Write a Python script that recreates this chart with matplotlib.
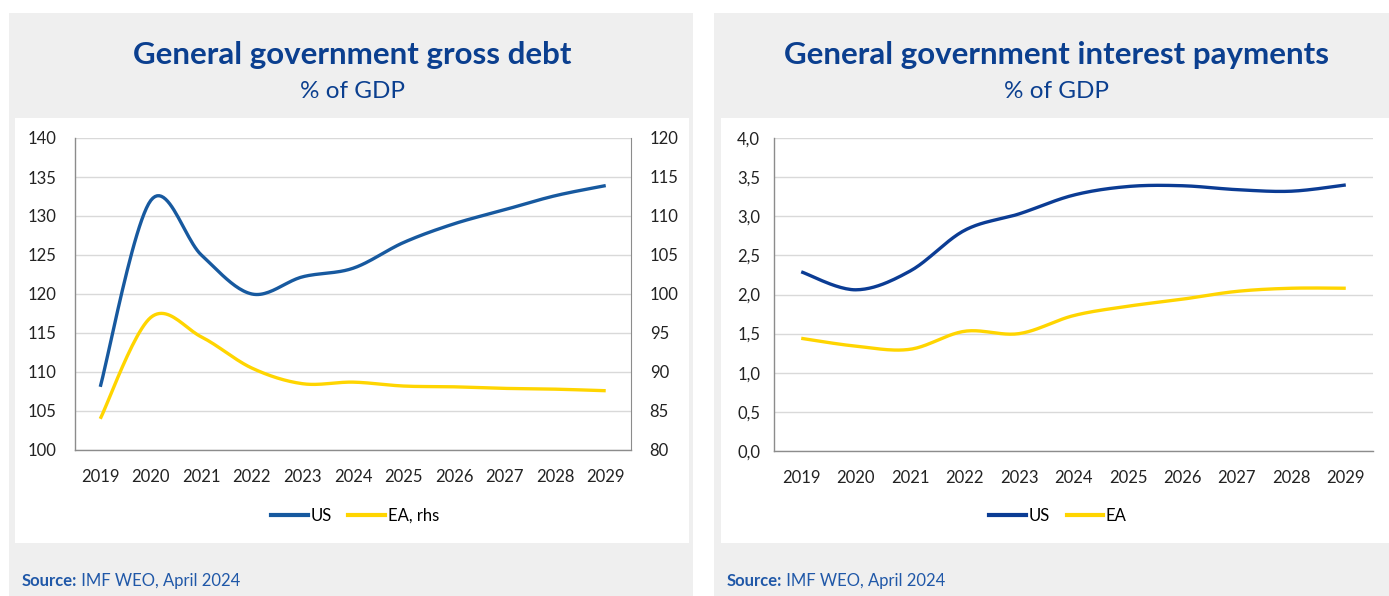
import numpy as np
import matplotlib
matplotlib.use("Agg")
import matplotlib.pyplot as plt
from matplotlib.patches import Rectangle
from matplotlib.ticker import FuncFormatter, MultipleLocator
from matplotlib.lines import Line2D

# ---- data -------------------------------------------------------------
years = ["2019", "2020", "2021", "2022", "2023", "2024",
         "2025", "2026", "2027", "2028", "2029"]

debt_us = [108.1, 132.0, 125.0, 120.0, 122.2, 123.3, 126.6, 129.0, 130.8, 132.6, 133.9]
debt_ea = [84.0, 97.0, 94.5, 90.5, 88.5, 88.7, 88.2, 88.1, 87.9, 87.8, 87.6]

interest_us = [2.29, 2.06, 2.30, 2.82, 3.03, 3.27, 3.38, 3.39, 3.34, 3.32, 3.40]
interest_ea = [1.44, 1.34, 1.30, 1.53, 1.50, 1.73, 1.85, 1.94, 2.04, 2.08, 2.08]

left_title = "General government gross debt"
right_title = "General government interest payments"
subtitle = "% of GDP"
source_bold = "Source:"
source_rest = " IMF WEO, April 2024"

# ---- style ------------------------------------------------------------
FONT = "Lato"
plt.rcParams["font.family"] = [FONT, "DejaVu Sans"]
W, H = 1389, 596
DPI = 100
TITLE_BLUE = "#0b3f8f"
SRC_BLUE = "#2058a8"
PANEL = "#efefef"
GRID = "#d9d9d9"
SPINE = "#8c8c8c"
TICK = "#222222"
US_LEFT = "#17599f"
US_RIGHT = "#0b3c94"
YELLOW = "#ffd500"
LW = 2.4

fig = plt.figure(figsize=(W / DPI, H / DPI), dpi=DPI)
fig.patch.set_facecolor("white")


def box(x0, y0, x1, y1):
    """pixel box (top-left origin) -> figure fraction rect"""
    return [x0 / W, 1 - y1 / H, (x1 - x0) / W, (y1 - y0) / H]


def rect(x0, y0, x1, y1, color, z):
    fig.patches.append(Rectangle((x0 / W, 1 - y1 / H), (x1 - x0) / W, (y1 - y0) / H,
                                 transform=fig.transFigure, facecolor=color,
                                 edgecolor="none", zorder=z))


def smooth(yvals, n=24):
    """Bezier smoothing through every point (spreadsheet-style smoothed line)."""
    y = np.asarray(yvals, float)
    x = np.arange(len(y), dtype=float)
    pts = np.column_stack([x, y])
    out = []
    for i in range(len(pts) - 1):
        p0 = pts[i - 1] if i > 0 else pts[i]
        p1, p2 = pts[i], pts[i + 1]
        p3 = pts[i + 2] if i + 2 < len(pts) else pts[i + 1]
        c1 = p1 + (p2 - p0) / 6.0
        c2 = p2 - (p3 - p1) / 6.0
        t = np.linspace(0, 1, n, endpoint=(i == len(pts) - 2))[:, None]
        seg = ((1 - t) ** 3) * p1 + 3 * ((1 - t) ** 2) * t * c1 + 3 * (1 - t) * t ** 2 * c2 + t ** 3 * p2
        out.append(seg)
    c = np.vstack(out)
    return c[:, 0], c[:, 1]


# panels (behind the axes)
rect(9, 13, 693, 596, PANEL, -3)
rect(714, 13, 1389, 596, PANEL, -3)
rect(15, 118, 689, 543, "white", -2)
rect(721, 118, 1389, 543, "white", -2)

# titles
TS, SS = 22.5, 17.5
fig.text(352 / W, 1 - 55 / H, left_title, ha="center", va="center",
         fontsize=TS, fontweight="bold", color=TITLE_BLUE)
fig.text(352 / W, 1 - 92 / H, subtitle, ha="center", va="center",
         fontsize=SS, color=TITLE_BLUE)
fig.text(1056 / W, 1 - 55 / H, right_title, ha="center", va="center",
         fontsize=TS, fontweight="bold", color=TITLE_BLUE)
fig.text(1056 / W, 1 - 92 / H, subtitle, ha="center", va="center",
         fontsize=SS, color=TITLE_BLUE)

TICK_FS = 12


def style_axis(ax):
    ax.set_facecolor("none")
    ax.grid(axis="y", color=GRID, lw=1.0)
    ax.set_axisbelow(True)
    for s in ("top", "right"):
        ax.spines[s].set_visible(False)
    for s in ("left", "bottom"):
        ax.spines[s].set_color(SPINE)
        ax.spines[s].set_linewidth(1.0)
    ax.tick_params(length=0, labelsize=TICK_FS, colors=TICK)
    ax.tick_params(axis="x", pad=14)
    ax.set_xticks(range(len(years)))
    ax.set_xticklabels(years)
    ax.set_xlim(-0.5, len(years) - 0.5)


# ---- left chart: gross debt -----------------------------------------
axL = fig.add_axes(box(75, 138, 631, 450))
style_axis(axL)
axL.set_ylim(100, 140)
axL.yaxis.set_major_locator(MultipleLocator(5))
axL.tick_params(axis="y", pad=13.5)
xs, ys = smooth(debt_us)
axL.plot(xs, ys, color=US_LEFT, lw=LW, solid_capstyle="butt", zorder=3)

axR = axL.twinx()
axR.set_ylim(80, 120)
axR.yaxis.set_major_locator(MultipleLocator(5))
for s in ("top", "left", "bottom"):
    axR.spines[s].set_visible(False)
axR.spines["right"].set_color(SPINE)
axR.tick_params(length=0, labelsize=TICK_FS, colors=TICK, pad=13.5)
xs, ys = smooth(debt_ea)
axR.plot(xs, ys, color=YELLOW, lw=LW, solid_capstyle="butt", zorder=3)

handles = [Line2D([], [], color=US_LEFT, lw=3), Line2D([], [], color=YELLOW, lw=3)]
axL.legend(handles, ["US", "EA, rhs"], loc="center", bbox_to_anchor=(355 / W, 1 - 516 / H),
           bbox_transform=fig.transFigure, ncol=2, frameon=False, fontsize=TICK_FS,
           handlelength=2.2, handletextpad=0.15, columnspacing=1.0)

# ---- right chart: interest payments ---------------------------------
ax2 = fig.add_axes(box(774, 138, 1373, 451))
style_axis(ax2)
ax2.set_ylim(0, 4)
ax2.yaxis.set_major_locator(MultipleLocator(0.5))
ax2.yaxis.set_major_formatter(FuncFormatter(lambda v, p: f"{v:.1f}".replace(".", ",")))
ax2.tick_params(axis="y", pad=10)
xs, ys = smooth(interest_us)
ax2.plot(xs, ys, color=US_RIGHT, lw=LW, solid_capstyle="butt", zorder=3)
xs, ys = smooth(interest_ea)
ax2.plot(xs, ys, color=YELLOW, lw=LW, solid_capstyle="butt", zorder=3)

handles = [Line2D([], [], color=US_RIGHT, lw=3), Line2D([], [], color=YELLOW, lw=3)]
ax2.legend(handles, ["US", "EA"], loc="center", bbox_to_anchor=(1058 / W, 1 - 516 / H),
           bbox_transform=fig.transFigure, ncol=2, frameon=False, fontsize=TICK_FS,
           handlelength=2.2, handletextpad=0.15, columnspacing=1.0)

# ---- source notes ----------------------------------------------------
for x0 in (22, 727):
    t = fig.text(x0 / W, 1 - 581 / H, source_bold, ha="left", va="center",
                 fontsize=12, fontweight="bold", color=SRC_BLUE)
    axL.annotate(source_rest, xy=(1, 0.5), xycoords=t, ha="left", va="center",
                 fontsize=12, color=SRC_BLUE, annotation_clip=False)

fig.savefig("out.png", dpi=DPI)
